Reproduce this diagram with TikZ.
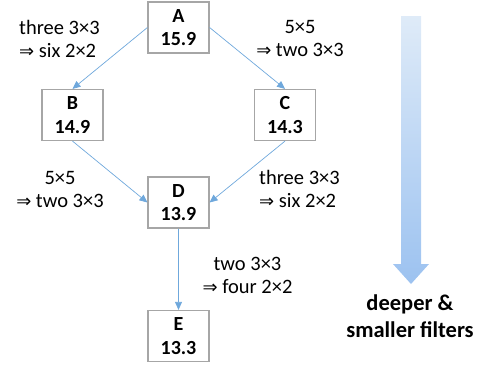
\documentclass[tikz,border=0pt]{standalone}
\usepackage{fontspec}
\setmainfont{Carlito}
\newfontfamily\symf{DejaVu Sans}
\newcommand{\dimpl}{{\symf\fontsize{18}{18}\selectfont ⇒}}
\usetikzlibrary{arrows.meta}
\definecolor{edgeblue}{HTML}{6FA8DC}
\definecolor{boxgray}{HTML}{A6A6A6}
\definecolor{arrtop}{HTML}{DFEBF8}
\definecolor{arrbot}{HTML}{9CC2F0}
\begin{document}
\begin{tikzpicture}[x=1pt,y=-1pt,
  box/.style={draw=boxgray,line width=1.2pt,minimum width=61pt,minimum height=51pt,inner sep=0pt,align=center,font=\fontsize{20}{23.4}\selectfont\bfseries},
  lbl/.style={inner sep=0pt,font=\fontsize{20.5}{23}\selectfont},
  link/.style={draw=edgeblue,line width=0.7pt,-{Triangle[length=8pt,width=7pt]}}]
\useasboundingbox (0,0) rectangle (479,368);
\node[box] (A) at (178.5,27.5) {A\\15.9};
\node[box] (B) at (72.5,115) {B\\14.9};
\node[box] (C) at (285,115) {C\\14.3};
\node[box] (D) at (178.5,202.5) {D\\13.9};
\node[box] (E) at (178.5,336) {E\\13.3};
\draw[link] (A.west) -- (B.north);
\draw[link] (A.east) -- (C.north);
\draw[link] (B.south) -- (D.west);
\draw[link] (C.south) -- (D.east);
\draw[link] (D.south) -- (E.north);
\node[lbl,align=left,anchor=west] (l1) at (19,39) {three 3×3\\\dimpl{} six 2×2};
\node[lbl,align=center] (l2) at (300,38.5) {5×5\\\dimpl{} two 3×3};
\node[lbl,align=center] (l3) at (60,189) {5×5\\\dimpl{} two 3×3};
\node[lbl,align=left,anchor=west] (l4) at (259,188.5) {three 3×3\\\dimpl{} six 2×2};
\node[lbl,align=center] (l5) at (247.5,275) {two 3×3\\\dimpl{} four 2×2};
\shade[top color=arrtop,bottom color=arrbot] (401,16) -- (421,16) -- (421,264) -- (429,264) -- (411,284) -- (393,264) -- (401,264) -- cycle;
\node[inner sep=0pt,align=center,font=\fontsize{22.5}{27}\selectfont\bfseries] (deep) at (410,316) {deeper \&\\smaller filters};
\end{tikzpicture}
\end{document}
